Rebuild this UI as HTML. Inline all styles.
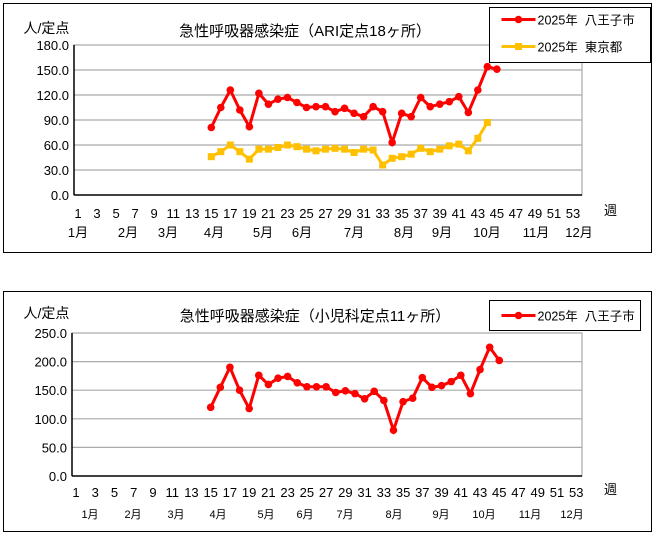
<!DOCTYPE html>
<html><head><meta charset="utf-8">
<style>
body{margin:0;background:#fff;}
svg{display:block;font-family:"Liberation Sans","Noto Sans CJK JP",sans-serif;}
</style></head>
<body>
<svg id="s" width="657" height="534" xmlns="http://www.w3.org/2000/svg"></svg>
<script>
const s=document.getElementById('s');let h='';
function chart(o){
 h+=`<rect x="${o.bx}" y="${o.by}" width="${o.bw}" height="${o.bh}" fill="#fff" stroke="#000" stroke-width="1"/>`;
 const Y=v=>o.y0-(v/o.max)*(o.y0-o.yt);
 const X=w=>o.x1+(w-1)*o.dw;
 h+=`<rect x="${o.pl}" y="${o.yt}" width="${o.pr-o.pl}" height="${o.y0-o.yt}" fill="#fff" stroke="#999"/>`;
 for(let i=0;i<=o.n;i++){const v=o.max/o.n*i,y=Y(v);
  h+=`<line x1="${o.pl}" x2="${o.pr}" y1="${y}" y2="${y}" stroke="${i==0?'#000':'#aaa'}" stroke-width="${i==0?1.5:1.2}"/>`;
  h+=`<text x="${o.pl-5}" y="${y+5}" font-size="13" text-anchor="end">${v.toFixed(1)}</text>`;}
 h+=`<line x1="${o.pl}" x2="${o.pl}" y1="${o.yt}" y2="${o.y0}" stroke="#000" stroke-width="1.5"/>`;
 for(let w=1;w<=53;w+=2)h+=`<text x="${X(w)}" y="${o.wy}" font-size="13" text-anchor="middle">${w}</text>`;
 h+=`<text x="${o.zx}" y="${o.wy-3}" font-size="13">週</text>`;
 o.months.forEach((m,i)=>h+=`<text x="${m}" y="${o.my}" font-size="${o.mf}" text-anchor="middle">${i+1}月</text>`);
 h+=`<text x="${o.bx+20}" y="${o.ty}" font-size="14">人/定点</text>`;
 h+=`<text x="${o.tx}" y="${o.ty+3}" font-size="15" text-anchor="middle">${o.title}</text>`;
 h+=`<rect x="${o.lx}" y="${o.ly}" width="${o.lw}" height="${o.lh}" fill="#fff" stroke="#000"/>`;
 o.series.forEach((se,i)=>{const y=o.ly+o.l0+i*o.ls;
  h+=`<line x1="${o.lx+12}" x2="${o.lx+46}" y1="${y}" y2="${y}" stroke="${se.c}" stroke-width="3"/>`;
  h+=se.sq?`<rect x="${o.lx+25.5}" y="${y-3.5}" width="7" height="7" fill="${se.c}"/>`:`<circle cx="${o.lx+29}" cy="${y}" r="3.8" fill="${se.c}"/>`;
  h+=`<text x="${o.lx+48}" y="${y+5}" font-size="12.5">2025年&#160;&#160;${se.n}</text>`;});
 o.series.forEach(se=>{const pts=se.d.map((v,i)=>[X(15+i),Y(v)]);
  h+=`<polyline points="${pts.map(p=>p.join(',')).join(' ')}" fill="none" stroke="${se.c}" stroke-width="3"/>`;
  pts.forEach(p=>h+=se.sq?`<rect x="${p[0]-3.5}" y="${p[1]-3.5}" width="7" height="7" fill="${se.c}"/>`:`<circle cx="${p[0]}" cy="${p[1]}" r="3.8" fill="${se.c}"/>`);});
}
chart({bx:3.5,by:3.5,bw:648,bh:249,pl:74,pr:582,yt:45,y0:195,max:180,n:6,x1:78,dw:9.52,wy:218,my:237,mf:13,zx:604,
 months:[78,128,168,214,263,302,354,404,442,487,536,579],tx:305,ty:33,title:"急性呼吸器感染症（ARI定点18ヶ所）",
 lx:489.5,ly:7.5,lw:161,lh:55,l0:12,ls:27,
 series:[{c:"#f00",n:"八王子市",d:[81,105,126,102,82,122,109,115,117,111,105,106,106,100,104,98,94,106,100,63,98,94,117,106,109,112,118,99,126,154,151]},
 {c:"#ffc000",n:"東京都",sq:1,d:[46,52,60,52,43,55,55,57,60,58,55,53,55,56,55,51,55,54,36,44,46,49,56,52,55,59,61,53,68,87]}]});
chart({bx:3.5,by:291.5,bw:648,bh:240,pl:72,pr:582,yt:333,y0:476,max:250,n:5,x1:76,dw:9.62,wy:497,my:518,mf:11,zx:604,
 months:[90,133,176,218,266,305,345,394,441,484,530,572],tx:315,ty:318,title:"急性呼吸器感染症（小児科定点11ヶ所）",
 lx:489.5,ly:300.5,lw:151,lh:30,l0:15,ls:27,
 series:[{c:"#f00",n:"八王子市",d:[120,155,190,150,118,176,160,171,174,163,156,156,156,146,149,144,135,148,132,80,130,136,172,155,158,165,176,144,186,225,202]}]});
s.innerHTML=h;
</script>
</body></html>
